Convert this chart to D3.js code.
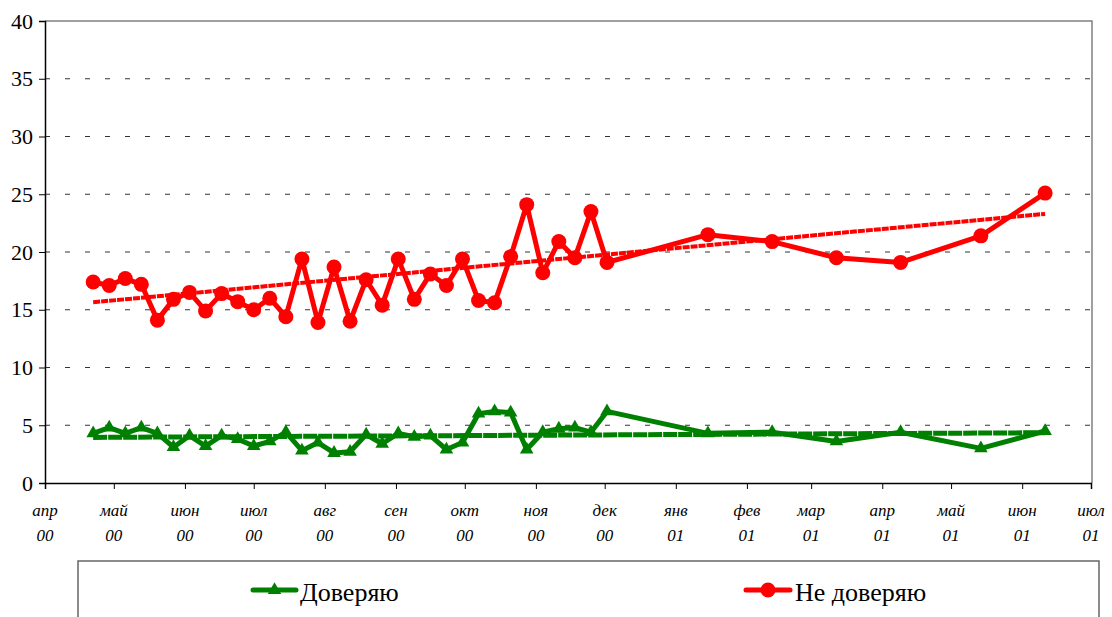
<!DOCTYPE html>
<html>
<head>
<meta charset="utf-8">
<script src="https://cdn.jsdelivr.net/npm/d3@7"></script>
<style>
  html, body { margin: 0; padding: 0; background: #fff; }
  svg { display: block; }
</style>
</head>
<body>
<svg id="chart" width="1112" height="617"></svg>
<script>
// ---- data ----
const dates = [
  "2000-04-22","2000-04-29","2000-05-06","2000-05-13","2000-05-20","2000-05-27",
  "2000-06-03","2000-06-10","2000-06-17","2000-06-24","2000-07-01","2000-07-08",
  "2000-07-15","2000-07-22","2000-07-29","2000-08-05","2000-08-12","2000-08-19",
  "2000-08-26","2000-09-02","2000-09-09","2000-09-16","2000-09-23","2000-09-30",
  "2000-10-07","2000-10-14","2000-10-21","2000-10-28","2000-11-04","2000-11-11",
  "2000-11-18","2000-11-25","2000-12-02","2001-01-15","2001-02-12","2001-03-12",
  "2001-04-09","2001-05-14","2001-06-11"
];
const trustValues = [
  4.3, 4.8, 4.3, 4.8, 4.3, 3.1, 4.1, 3.2, 4.1, 3.8, 3.2, 3.6, 4.4, 2.8, 3.5, 2.6,
  2.7, 4.2, 3.4, 4.3, 4.0, 4.1, 2.9, 3.5, 6.0, 6.2, 6.1, 2.9, 4.4, 4.7, 4.8, 4.4,
  6.2, 4.3, 4.4, 3.6, 4.4, 3.0, 4.5
];
const distrustValues = [
  17.4, 17.1, 17.7, 17.2, 14.1, 15.9, 16.5, 14.9, 16.4, 15.7, 15.0, 16.0, 14.4,
  19.4, 13.9, 18.7, 14.0, 17.6, 15.4, 19.4, 15.9, 18.1, 17.1, 19.4, 15.8, 15.6,
  19.6, 24.1, 18.2, 20.9, 19.5, 23.5, 19.1, 21.5, 20.9, 19.5, 19.1, 21.4, 25.1
];
// linear trend lines: value at first and last survey date
const trustTrend = [3.95, 4.35];
const distrustTrend = [15.65, 23.3];
const seriesNames = ["Доверяю", "Не доверяю"];
const seriesColors = ["#008000", "#ff0000"];
const monthLabels = ["апр","май","июн","июл","авг","сен","окт","ноя","дек","янв","фев","мар","апр","май","июн","июл"];
const yearLabels  = ["00","00","00","00","00","00","00","00","00","01","01","01","01","01","01","01"];
const yTicks = [0, 5, 10, 15, 20, 25, 30, 35, 40];

// ---- layout ----
const FONT = "Liberation Serif";
const parse = d3.utcParse("%Y-%m-%d");
const xDates = dates.map(parse);
const mLeft = 45, mRight = 1091, mTop = 21, mBottom = 483;

const x = d3.scaleUtc().domain([parse("2000-04-01"), parse("2001-07-01")]).range([mLeft, mRight]);
const y = d3.scaleLinear().domain([0, 40]).range([mBottom, mTop]);

const svg = d3.select("#chart");

// gridlines
svg.append("g").selectAll("line").data(yTicks.filter(v => v > 0 && v < 40)).join("line")
  .attr("x1", mLeft).attr("x2", mRight)
  .attr("y1", d => y(d)).attr("y2", d => y(d))
  .attr("stroke", "#333").attr("stroke-width", 1).attr("stroke-dasharray", "5,15");

// plot border (top and right)
svg.append("path")
  .attr("d", `M${mLeft},${y(40)}H${mRight + 1}V${mBottom}`)
  .attr("fill", "none").attr("stroke", "#808080").attr("stroke-width", 1.5);

// y axis
const yAxis = d3.axisLeft(y).tickValues(yTicks).tickSize(6).tickPadding(6).tickFormat(d3.format("d"));
const gy = svg.append("g").attr("transform", `translate(${mLeft},0)`).call(yAxis)
  .attr("font-family", FONT).attr("font-size", 22);
gy.select(".domain").attr("stroke", "#000").attr("stroke-width", 1.5);
gy.selectAll(".tick line").attr("stroke", "#000").attr("stroke-width", 1);
gy.selectAll(".tick text").attr("fill", "#000");

// x axis
const monthTicks = d3.utcMonth.range(parse("2000-04-01"), parse("2001-07-02"));
const xAxis = d3.axisBottom(x).tickValues(monthTicks).tickSize(6).tickFormat("");
const gx = svg.append("g").attr("transform", `translate(0,${mBottom})`).call(xAxis);
gx.select(".domain").attr("stroke", "#000").attr("stroke-width", 1.5);
gx.selectAll(".tick line").attr("stroke", "#000").attr("stroke-width", 1);
const xl = svg.append("g").attr("font-family", FONT).attr("font-size", 17).attr("font-style", "italic")
  .selectAll("text").data(monthTicks).join("text")
  .attr("x", d => x(d)).attr("text-anchor", "middle").attr("fill", "#000");
xl.append("tspan").attr("x", d => x(d)).attr("y", 516).text((d, i) => monthLabels[i]);
xl.append("tspan").attr("x", d => x(d)).attr("y", 541).text((d, i) => yearLabels[i]);

// series
const allSeries = [trustValues, distrustValues];
const line = d3.line().x(d => x(d.date)).y(d => y(d.v));
allSeries.forEach((vals, si) => {
  const pts = vals.map((v, i) => ({ date: xDates[i], v }));
  const g = svg.append("g");
  g.append("path").datum(pts).attr("d", line)
    .attr("fill", "none").attr("stroke", seriesColors[si]).attr("stroke-width", 5)
    .attr("stroke-linejoin", "round");
  if (si === 0) {
    g.selectAll("path.m").data(pts).join("path").attr("class", "m")
      .attr("transform", d => `translate(${x(d.date)},${y(d.v)})`)
      .attr("d", d3.symbol(d3.symbolTriangle, 80))
      .attr("fill", seriesColors[si]);
  } else {
    g.selectAll("circle").data(pts).join("circle")
      .attr("cx", d => x(d.date)).attr("cy", d => y(d.v)).attr("r", 7.5)
      .attr("fill", seriesColors[si]);
  }
});

// linear trendlines
[trustTrend, distrustTrend].forEach((tr, si) => {
  const d0 = xDates[0], d1 = xDates[xDates.length - 1];
  svg.append("line")
    .attr("x1", x(d0)).attr("y1", y(tr[0]))
    .attr("x2", x(d1)).attr("y2", y(tr[1]))
    .attr("stroke", seriesColors[si]).attr("stroke-width", si === 0 ? 5 : 4)
    .attr("stroke-dasharray", si === 0 ? "14,1" : "7,1");
});

// legend
svg.append("rect").attr("x", 78).attr("y", 561).attr("width", 1021).attr("height", 80)
  .attr("fill", "#fff").attr("stroke", "#666").attr("stroke-width", 1.5);
const legendItems = [
  { x1: 253, x2: 296, tx: 300, name: seriesNames[0], color: seriesColors[0], sym: "tri" },
  { x1: 746, x2: 790, tx: 795, name: seriesNames[1], color: seriesColors[1], sym: "circ" }
];
legendItems.forEach(it => {
  const g = svg.append("g");
  g.append("line").attr("x1", it.x1).attr("x2", it.x2).attr("y1", 590).attr("y2", 590)
    .attr("stroke", it.color).attr("stroke-width", 5).attr("stroke-linecap", "round");
  const cx = (it.x1 + it.x2) / 2;
  if (it.sym === "tri") {
    g.append("path").attr("transform", `translate(${cx},590)`)
      .attr("d", d3.symbol(d3.symbolTriangle, 80)).attr("fill", it.color);
  } else {
    g.append("circle").attr("cx", cx).attr("cy", 590).attr("r", 7.5).attr("fill", it.color);
  }
  g.append("text").attr("x", it.tx).attr("y", 601)
    .attr("font-family", FONT).attr("font-size", 26).attr("fill", "#000").text(it.name);
});
</script>
</body>
</html>
